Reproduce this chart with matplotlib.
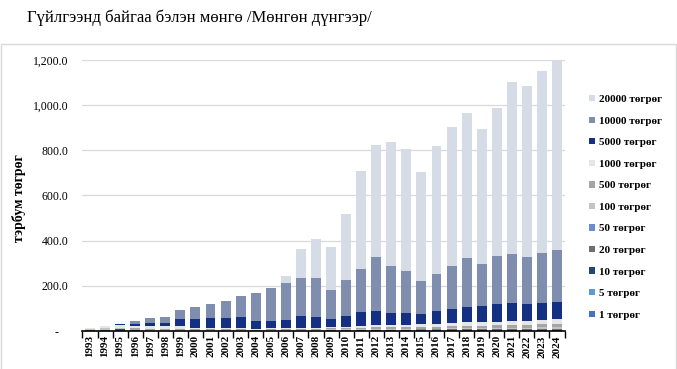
import matplotlib
matplotlib.use("Agg")
import matplotlib.pyplot as plt
from matplotlib.patches import Patch, Rectangle
from matplotlib.ticker import FixedLocator, FuncFormatter
import numpy as np

years = [str(y) for y in range(1993, 2025)]

t1 = [0, 3, 3, 1, 0, 0, 0, 0, 0, 0, 0, 0, 0, 0, 0, 0,
      0.5, 0.5, 1, 1, 1, 1, 1, 1, 1, 1, 1, 1, 1, 1, 1, 1]
t5 = [0, 3, 2, 1, 0, 0, 0, 0, 0, 0, 0, 0, 0, 0, 0, 0,
      0.5, 0.5, 1, 1, 1, 1, 1, 1, 1, 1, 1, 1, 1, 1, 1, 1]
t10 = [0, 0, 2, 1, 1, 1, 1, 0, 0, 0, 0, 0, 1, 1, 1, 1,
       1, 1, 1, 1, 1, 1, 2, 2, 2, 2, 3, 3, 3, 3, 3, 3]
t20 = [0, 0, 0, 0, 1, 1, 1, 1, 1, 1, 1, 1, 1, 1, 1, 1,
       1, 1, 1, 2, 2, 2, 2, 2, 3, 3, 3, 3, 4, 4, 4, 5]
t50 = [0, 0, 0, 0, 0, 0, 0, 0, 0, 0, 0, 0, 0, 0, 0, 0,
       1, 1, 1, 1, 1, 1, 1, 1, 1, 1, 1, 1, 1, 1, 1, 1]
t100 = [4, 6, 7, 2, 2, 2, 2, 2, 2, 2, 2, 1, 2, 2, 2, 2,
        3, 3, 3, 3, 3, 3, 4, 4, 4, 5, 5, 5, 5, 5, 6, 6]
t500 = [0, 0, 0, 10, 6, 7, 7, 4, 5, 4, 4, 3, 4, 4, 4, 4,
        6, 6, 6, 7, 7, 7, 8, 8, 9, 10, 10, 11, 12, 12, 13, 14]
t1000 = [5, 10, 12, 8, 12, 13, 9, 7, 7, 7, 7, 4, 7, 7, 7, 7,
         6, 6, 8, 10, 10, 10, 12, 12, 14, 17, 16, 15, 17, 17, 19, 22]
t5000 = [0, 0, 6, 9, 15, 13, 31, 38, 43, 43, 47, 35, 29, 34, 51, 47,
         34, 47, 62, 62, 53, 53, 44, 57, 62, 66, 70, 79, 80, 75, 76, 75]
t10000 = [0, 0, 0, 13, 22, 25, 44, 54, 62, 75, 93, 124, 146, 163, 168, 172,
          128, 159, 189, 238, 208, 186, 146, 163, 190, 216, 186, 212, 216, 207, 220, 229]
t20000 = [0, 0, 0, 0, 0, 0, 0, 0, 0, 0, 0, 0, 0, 31, 128, 172,
          189, 291, 437, 499, 551, 542, 485, 569, 617, 644, 599, 657, 763, 759, 807, 838]
other = [6] + [0] * 31

series = [
    ("_other", other, "#70AD47"),
    ("1 төгрөг", t1, "#4472C4"),
    ("5 төгрөг", t5, "#5B9BD5"),
    ("10 төгрөг", t10, "#264478"),
    ("20 төгрөг", t20, "#6E6E6E"),
    ("50 төгрөг", t50, "#698ED0"),
    ("100 төгрөг", t100, "#C4C4C4"),
    ("500 төгрөг", t500, "#A5A5A5"),
    ("1000 төгрөг", t1000, "#E7E6E6"),
    ("5000 төгрөг", t5000, "#143082"),
    ("10000 төгрөг", t10000, "#7F8DAE"),
    ("20000 төгрөг", t20000, "#D6DCE5"),
]

W, H = 677, 369
fig = plt.figure(figsize=(W / 100, H / 100), dpi=100)
serif = ["Liberation Serif", "DejaVu Serif"]

# outer chart frame
fig.add_artist(Rectangle((0.5 / W, -10 / H), 675.5 / W, (H - 44 + 10) / H,
                         transform=fig.transFigure, fill=False, edgecolor="#D9D9D9", lw=1))

ax = fig.add_axes([82 / W, 1 - 331 / H, (565 - 82) / W, (331 - 60) / H])
x = np.arange(len(years))
bottom = np.zeros(len(years))
handles = []
for name, vals, col in series:
    v = np.array(vals, dtype=float)
    ax.bar(x, v, bottom=bottom, width=0.66, color=col, edgecolor="none", zorder=2)
    bottom += v
    if not name.startswith("_"):
        handles.append(Patch(facecolor=col, edgecolor="none", label=name))

ax.set_xlim(-0.53, len(years) - 0.47)
ax.set_ylim(0, 1200)
ax.yaxis.set_major_locator(FixedLocator([0, 200, 400, 600, 800, 1000, 1200]))
ax.yaxis.set_major_formatter(FuncFormatter(lambda v, p: "-   " if v == 0 else f"{v:,.1f}"))
ax.grid(axis="y", color="#D9D9D9", lw=0.9, zorder=0)
for s in ["top", "right", "left"]:
    ax.spines[s].set_visible(False)
ax.spines["bottom"].set_color("black")
ax.spines["bottom"].set_linewidth(1.2)
ax.spines["bottom"].set_zorder(3)
ax.tick_params(axis="y", length=0, pad=10)
for lab in ax.get_yticklabels():
    lab.set_family(serif)
    lab.set_fontsize(8.5)

ax.set_xticks(np.arange(-0.5, len(years)), minor=False)
ax.set_xticklabels([])
ax.tick_params(axis="x", which="major", length=5, width=1, color="black", direction="out")
ax.set_xticks(x, minor=True)
ax.set_xticklabels(years, minor=True, rotation=90, fontfamily=serif,
                   fontweight="bold", fontsize=8)
ax.tick_params(axis="x", which="minor", length=0, pad=3)

ax.set_ylabel("тэрбум төгрөг", fontfamily=serif, fontweight="bold", fontsize=10)
ax.yaxis.set_label_coords((26 - 82) / 483, 0.49)

fig.text(27 / W, 1 - 18 / H, "Гүйлгээнд байгаа бэлэн мөнгө /Мөнгөн дүнгээр/",
         fontfamily=serif, fontsize=12, ha="left", va="center")

leg = fig.legend(handles=handles[::-1], loc="upper left",
                 bbox_to_anchor=(589 / W, 1 - 95 / H), frameon=False,
                 prop={"family": serif, "weight": "bold", "size": 8},
                 handlelength=0.5, handleheight=0.5, handletextpad=0.4,
                 labelspacing=1.12, borderpad=0, borderaxespad=0)

fig.savefig("out.png", dpi=100)
